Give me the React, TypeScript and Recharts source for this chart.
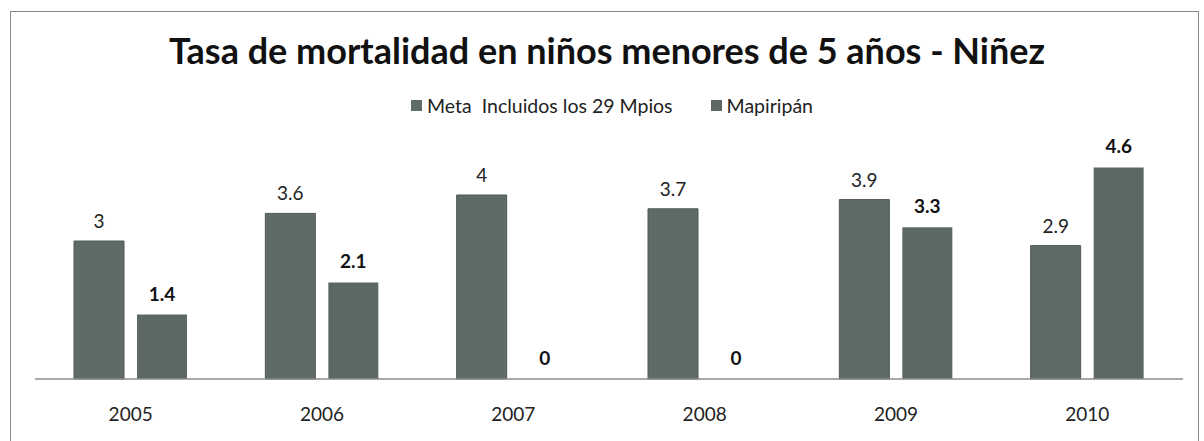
import { BarChart, Bar, XAxis, YAxis, LabelList } from "recharts";

const years = ["2005", "2006", "2007", "2008", "2009", "2010"];
const metaValues = [3, 3.6, 4, 3.7, 3.9, 2.9];
const mapiripanValues = [1.4, 2.1, 0, 0, 3.3, 4.6];
const seriesNames = ["Meta  Incluidos los 29 Mpios", "Mapiripán"];
const seriesColors = ["#5f6b66", "#5c6863"];

const data = years.map((year, i) => ({
  year,
  meta: metaValues[i],
  mapiripan: mapiripanValues[i],
}));

const FONT = "Lato, 'Open Sans', sans-serif";

// keep zero bars "present" so their 0 labels still get drawn
const keepZero = (value: number) => (value === 0 ? 0.01 : 0);

export default function App() {
  return (
    <div
      style={{
        position: "absolute",
        left: 0,
        top: 0,
        width: 1204,
        height: 441,
        background: "#fff",
        overflow: "hidden",
        fontFamily: FONT,
      }}
    >
      {/* chart frame */}
      <div
        style={{
          position: "absolute",
          left: 10,
          top: 11,
          width: 1189,
          height: 440,
          border: "1px solid #8a8a8a",
          boxSizing: "border-box",
        }}
      />

      <div
        style={{
          position: "absolute",
          left: 0,
          top: 28,
          width: 1214,
          textAlign: "center",
          fontSize: 36,
          fontWeight: 700,
          color: "#111",
          whiteSpace: "nowrap",
        }}
      >
        Tasa de mortalidad en niños menores de 5 años - Niñez
      </div>

      {/* legend */}
      <div
        style={{
          position: "absolute",
          left: 0,
          top: 94,
          width: 1224,
          display: "flex",
          justifyContent: "center",
          gap: 38,
          fontSize: 19.5,
          color: "#222",
        }}
      >
        {seriesNames.map((name, i) => (
          <div key={name} style={{ display: "flex", alignItems: "center" }}>
            <span
              style={{
                display: "inline-block",
                width: 11,
                height: 11,
                background: seriesColors[i],
                marginRight: 5,
              }}
            />
            <span style={{ whiteSpace: "pre" }}>{name}</span>
          </div>
        ))}
      </div>

      <div style={{ position: "absolute", left: 0, top: 0 }}>
        <BarChart
          width={1204}
          height={441}
          data={data}
          margin={{ top: 149, right: 21, bottom: 0, left: 35 }}
          barGap={13}
        >
          <XAxis
            dataKey="year"
            axisLine={{ stroke: "#8c8c8c", strokeWidth: 1.5 }}
            tickLine={false}
            tickSize={0}
            tickMargin={29}
            tick={{ fontSize: 19, fill: "#222", fontFamily: FONT }}
            height={62}
          />
          <YAxis hide domain={[0, 5]} />
          <Bar
            dataKey="meta"
            name={seriesNames[0]}
            fill={seriesColors[0]}
            stroke="#4f5753"
            strokeWidth={1}
            barSize={50}
            minPointSize={keepZero}
            isAnimationActive={false}
          >
            <LabelList
              dataKey="meta"
              position="top"
              offset={13}
              style={{ fontSize: 19, fill: "#222", fontFamily: FONT }}
            />
          </Bar>
          <Bar
            dataKey="mapiripan"
            name={seriesNames[1]}
            fill={seriesColors[1]}
            stroke="none"
            barSize={50}
            minPointSize={keepZero}
            isAnimationActive={false}
          >
            <LabelList
              dataKey="mapiripan"
              position="top"
              offset={14}
              style={{ fontSize: 19, fill: "#111", fontWeight: 700, fontFamily: FONT }}
            />
          </Bar>
        </BarChart>
      </div>
    </div>
  );
}
